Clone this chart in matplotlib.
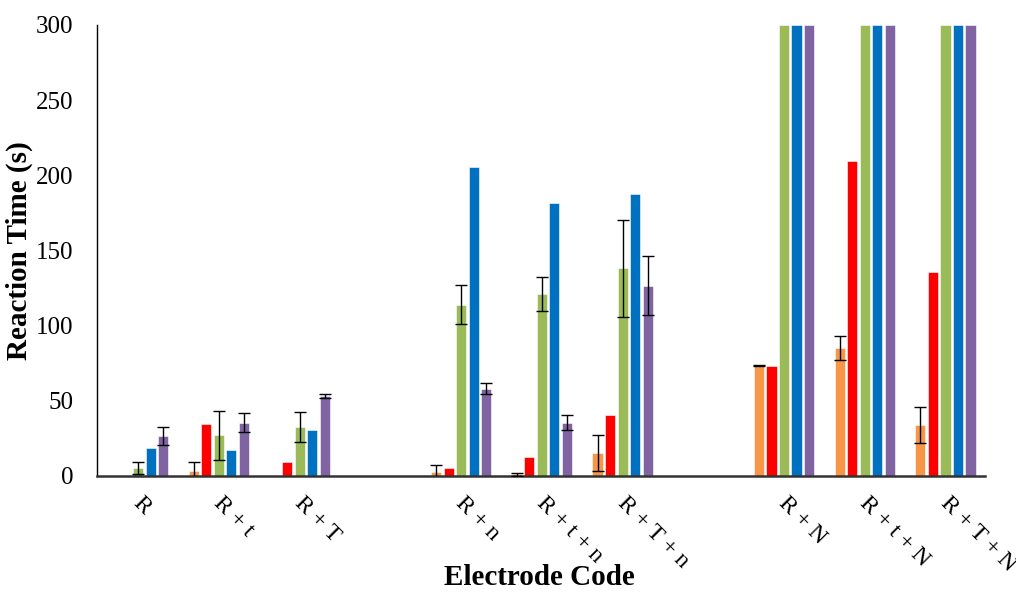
import numpy as np
import matplotlib
matplotlib.use("Agg")
import matplotlib.pyplot as plt

plt.rcParams['font.family'] = ['Liberation Serif', 'DejaVu Serif']

categories = ["R", "R + t", "R + T", "", "R + n", "R + t + n", "R + T + n", "",
              "R + N", "R + t + N", "R + T + N"]
series_names = ["S1", "S2", "S3", "S4", "S5"]
colors = ["#F79646", "#FF0000", "#9BBB59", "#0070C0", "#8064A2"]

nan = np.nan
orange = [0, 3.5, 0, nan, 2.5, 1, 15, nan, 73.4, 85, 34]
red = [0, 34.5, 9.5, nan, 5.3, 12.5, 40.4, nan, 73.4, 209.4, 135.5]
green = [5, 27, 32.5, nan, 114, 121, 138, nan, 300, 300, 300]
blue = [18.4, 17.3, 30.4, nan, 205.3, 181.6, 187.6, nan, 300, 300, 300]
purple = [26.5, 35.5, 53.3, nan, 58, 35.5, 126.5, nan, 300, 300, 300]

orange_err = [nan, 6, nan, nan, 4.5, 1, 12, nan, 0.3, 8, 12]
red_err = [nan] * 11
green_err = [4, 16.5, 10, nan, 13, 11, 32, nan, nan, nan, nan]
blue_err = [nan] * 11
purple_err = [6, 6.5, 1.3, nan, 3.7, 5, 19.5, nan, nan, nan, nan]

values = [orange, red, green, blue, purple]
errors = [orange_err, red_err, green_err, blue_err, purple_err]

fig = plt.figure(figsize=(10.16, 5.92), dpi=100)
ax = fig.add_axes([0.0955, 0.196, 0.874, 0.762])

x = np.arange(len(categories))
step = 0.155
width = 0.125
for i, (vals, errs, c) in enumerate(zip(values, errors, colors)):
    pos = x + (i - 2) * step + 0.01
    ax.bar(pos, vals, width=width, color=c, edgecolor='white', linewidth=0.4,
           label=series_names[i], zorder=2)
    ax.errorbar(pos, vals, yerr=errs, fmt='none', ecolor='black',
                elinewidth=1, capsize=4.5, capthick=1, zorder=3)

ax.set_xlim(-0.5, len(categories) - 0.5)
ax.set_ylim(0, 300)
ax.set_yticks([0, 50, 100, 150, 200, 250, 300])
ax.tick_params(axis='y', length=0, labelsize=18, pad=17)
ax.set_xticks(x)
ax.set_xticklabels([])
ax.tick_params(axis='x', length=0)
for xi, lab in zip(x, categories):
    ax.text(xi + 0.08, -11, lab, rotation=-45, rotation_mode='anchor',
            ha='left', va='top', fontsize=17, transform=ax.transData,
            clip_on=False)

for s in ['top', 'right']:
    ax.spines[s].set_visible(False)
ax.spines['left'].set_color('black')
ax.spines['left'].set_linewidth(1.0)
ax.spines['bottom'].set_color('#333333')
ax.spines['bottom'].set_linewidth(1.8)

ax.set_ylabel("Reaction Time (s)", fontsize=21, fontweight='bold', labelpad=2)
fig.text(0.531, 0.012, "Electrode Code", fontsize=21, fontweight='bold',
         ha='center', va='baseline')

fig.savefig("out.png", dpi=100)
